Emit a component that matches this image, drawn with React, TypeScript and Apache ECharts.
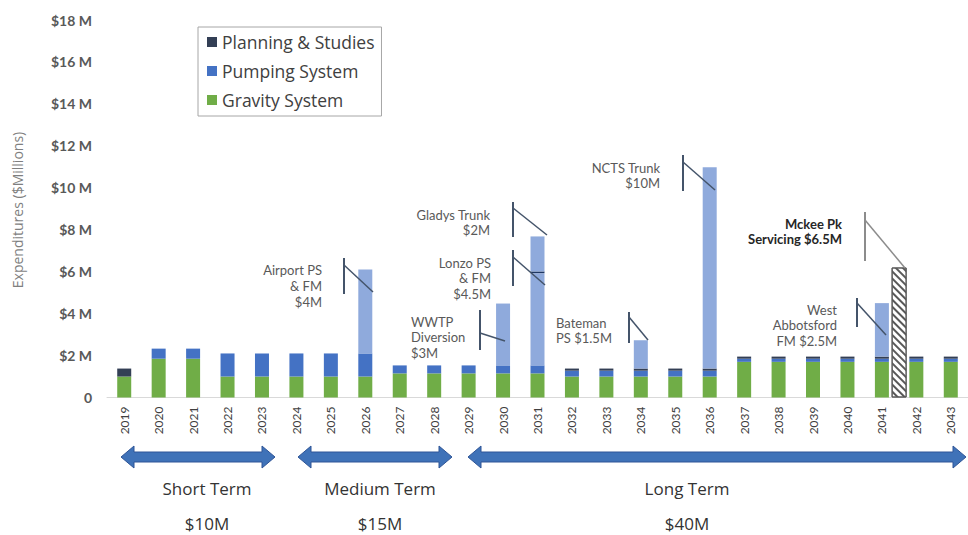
import React, { useEffect, useRef } from "react";
import * as echarts from "echarts";

const years = [
  "2019", "2020", "2021", "2022", "2023", "2024", "2025", "2026", "2027", "2028",
  "2029", "2030", "2031", "2032", "2033", "2034", "2035", "2036", "2037", "2038",
  "2039", "2040", "2041", "2042", "2043",
];
const gravity = [1.0, 1.85, 1.85, 1.0, 1.0, 1.0, 1.0, 1.0, 1.15, 1.15, 1.15, 1.15, 1.15, 1.0, 1.0, 1.0, 1.0, 1.0, 1.7, 1.7, 1.7, 1.7, 1.7, 1.7, 1.7];
const pumping = [0, 0.48, 0.48, 1.1, 1.1, 1.1, 1.1, 1.1, 0.38, 0.38, 0.38, 0.38, 0.38, 0.28, 0.28, 0.28, 0.28, 0.28, 0.15, 0.15, 0.15, 0.15, 0.15, 0.15, 0.15];
const planning = [0.38, 0, 0, 0, 0, 0, 0, 0, 0, 0, 0, 0, 0, 0.1, 0.1, 0.1, 0.1, 0.1, 0.1, 0.1, 0.1, 0.1, 0.1, 0.1, 0.1];
const majorProjects = [0, 0, 0, 0, 0, 0, 0, 4.0, 0, 0, 0, 2.95, 4.4, 0, 0, 1.35, 0, 9.6, 0, 0, 0, 0, 2.55, 0, 0];
const projectDivider = [0, 0, 0, 0, 0, 0, 0, 0, 0, 0, 0, 0, 0.08, 0, 0, 0, 0, 0, 0, 0, 0, 0, 0, 0, 0];
const upperProjects = [0, 0, 0, 0, 0, 0, 0, 0, 0, 0, 0, 0, 1.67, 0, 0, 0, 0, 0, 0, 0, 0, 0, 0, 0, 0];
const mckeePosition = 22.5; // between 2041 and 2042
const mckeeValue = 6.2;
const yTicks = [0, 2, 4, 6, 8, 10, 12, 14, 16, 18];

const FONT = "Lato, 'Open Sans', sans-serif";
const WIDE = "'Open Sans', Lato, sans-serif";
const CALLOUT = "#44546a";

const annotations = [
  { text: "Airport PS\n& FM\n$4M", x: 322, y: 262, align: "right", lh: 16, bold: false },
  { text: "WWTP\nDiversion\n$3M", x: 411, y: 314, align: "left", lh: 15.5, bold: false },
  { text: "Lonzo PS\n& FM\n$4.5M", x: 491, y: 255, align: "right", lh: 15.5, bold: false },
  { text: "Gladys Trunk\n$2M", x: 490, y: 207, align: "right", lh: 15.5, bold: false },
  { text: "Bateman\nPS $1.5M", x: 556, y: 315, align: "left", lh: 15.5, bold: false },
  { text: "NCTS Trunk\n$10M", x: 660, y: 160, align: "right", lh: 15.5, bold: false },
  { text: "Mckee Pk\nServicing $6.5M", x: 842, y: 216, align: "right", lh: 15.5, bold: true },
  { text: "West\nAbbotsford\nFM $2.5M", x: 837, y: 302, align: "right", lh: 15.5, bold: false },
];

const callouts = [
  { vx: 344, vy1: 258, vy2: 294, dy: 265, ex: 373, ey: 292, c: CALLOUT },
  { vx: 480, vy1: 310, vy2: 350, dy: 333, ex: 505, ey: 341, c: CALLOUT },
  { vx: 513, vy1: 250, vy2: 286, dy: 257, ex: 545, ey: 285, c: CALLOUT },
  { vx: 513, vy1: 202, vy2: 237, dy: 208, ex: 547, ey: 235, c: CALLOUT },
  { vx: 629, vy1: 312, vy2: 343, dy: 317, ex: 648, ey: 340, c: CALLOUT },
  { vx: 683, vy1: 155, vy2: 191, dy: 162, ex: 715, ey: 190, c: CALLOUT },
  { vx: 865, vy1: 212, vy2: 261, dy: 220, ex: 905, ey: 268, c: "#8c8c8c" },
  { vx: 857, vy1: 298, vy2: 327, dy: 303, ex: 886, ey: 335, c: CALLOUT },
];

const terms = [
  { name: "Short Term", total: "$10M", x1: 121, x2: 275, cx: 207 },
  { name: "Medium Term", total: "$15M", x1: 298, x2: 452, cx: 380 },
  { name: "Long Term", total: "$40M", x1: 468, x2: 966, cx: 687 },
];

function arrowPoints(x1: number, x2: number, cy: number) {
  const hl = 13, bh = 5, hh = 11;
  return [
    [x1, cy], [x1 + hl, cy - hh], [x1 + hl, cy - bh], [x2 - hl, cy - bh], [x2 - hl, cy - hh],
    [x2, cy], [x2 - hl, cy + hh], [x2 - hl, cy + bh], [x1 + hl, cy + bh], [x1 + hl, cy + hh],
  ];
}

export default function App() {
  const ref = useRef<HTMLDivElement>(null);
  useEffect(() => {
    if (!ref.current) return;
    const chart = echarts.init(ref.current, null, { renderer: "svg" });
    const graphic: any[] = [];
    graphic.push({
      type: "text",
      x: 17,
      y: 210,
      rotation: Math.PI / 2,
      style: { text: "Expenditures ($Millions)", fill: "#7f7f7f", font: `14px ${WIDE}`, align: "center", verticalAlign: "middle" },
    });
    annotations.forEach((a) => {
      graphic.push({
        type: "text",
        x: a.x,
        y: a.y,
        z: 10,
        style: {
          text: a.text,
          fill: a.bold ? "#262626" : "#595959",
          font: `${a.bold ? "bold " : ""}13px ${FONT}`,
          align: a.align,
          verticalAlign: "top",
          lineHeight: a.lh,
        },
      });
    });
    callouts.forEach((c) => {
      graphic.push({ type: "line", z: 10, shape: { x1: c.vx, y1: c.vy1, x2: c.vx, y2: c.vy2 }, style: { stroke: c.c, lineWidth: 2 } });
      graphic.push({ type: "line", z: 10, shape: { x1: c.vx, y1: c.dy, x2: c.ex, y2: c.ey }, style: { stroke: c.c, lineWidth: 1.5 } });
    });
    terms.forEach((t) => {
      graphic.push({
        type: "polygon",
        shape: { points: arrowPoints(t.x1, t.x2, 457) },
        style: { fill: "#3f72b8", stroke: "#2f5597", lineWidth: 1 },
      });
      graphic.push({
        type: "text", x: t.cx, y: 488,
        style: { text: t.name, fill: "#333333", font: `17px ${WIDE}`, align: "center", verticalAlign: "middle" },
      });
      graphic.push({
        type: "text", x: t.cx, y: 523,
        style: { text: t.total, fill: "#333333", font: `17px ${WIDE}`, align: "center", verticalAlign: "middle" },
      });
    });

    const barBase = { type: "bar", stack: "total", barWidth: 14, xAxisIndex: 0, yAxisIndex: 0 };
    chart.setOption({
      animation: false,
      textStyle: { fontFamily: FONT },
      grid: { left: 107, right: -4, top: 20, bottom: 137.5, containLabel: false },
      legend: {
        left: 198,
        top: 27,
        orient: "vertical",
        data: ["Planning & Studies", "Pumping System", "Gravity System"],
        icon: "rect",
        itemWidth: 10,
        itemHeight: 10,
        itemGap: 11,
        padding: [6, 7, 7, 9],
        borderColor: "#a6a6a6",
        borderWidth: 1,
        selectedMode: false,
        textStyle: { fontSize: 17.5, color: "#404040", fontFamily: WIDE },
      },
      xAxis: [
        {
          type: "category",
          data: years,
          axisLine: { show: true, lineStyle: { color: "#d9d9d9" } },
          axisTick: { show: false },
          axisLabel: { rotate: 90, fontSize: 12, color: "#404040", margin: 9, interval: 0 },
        },
        { type: "value", min: -0.5, max: 24.5, show: false },
      ],
      yAxis: {
        type: "value",
        min: 0,
        max: 18,
        interval: 2,
        splitLine: { show: false },
        axisLine: { show: false },
        axisTick: { show: false },
        axisLabel: {
          fontSize: 14,
          fontWeight: "bold",
          color: "#595959",
          margin: 15,
          formatter: (v: number) => (yTicks.includes(v) ? (v === 0 ? "0" : `$${v} M`) : ""),
        },
      },
      series: [
        { ...barBase, name: "Gravity System", data: gravity, itemStyle: { color: "#70ad47" } },
        { ...barBase, name: "Pumping System", data: pumping, itemStyle: { color: "#4472c4" } },
        { ...barBase, name: "Planning & Studies", data: planning, itemStyle: { color: "#333f55" } },
        { ...barBase, name: "Major Projects", data: majorProjects, itemStyle: { color: "#8faadc" } },
        { ...barBase, name: "Divider", data: projectDivider, itemStyle: { color: "#1f3864" } },
        { ...barBase, name: "Upper Projects", data: upperProjects, itemStyle: { color: "#8faadc" } },
        {
          type: "bar",
          name: "Mckee Pk Servicing",
          xAxisIndex: 1,
          yAxisIndex: 0,
          barWidth: 15,
          data: [[mckeePosition, mckeeValue]],
          itemStyle: {
            color: "#ffffff",
            borderColor: "#595959",
            borderWidth: 1,
            decal: {
              symbol: "rect",
              symbolSize: 1,
              color: "#595959",
              dashArrayX: [1, 0],
              dashArrayY: [1.2, 2.3],
              rotation: Math.PI / 4,
            },
          },
        },
      ],
      graphic,
    });
    return () => chart.dispose();
  }, []);
  return <div ref={ref} style={{ position: "fixed", left: 0, top: 0, width: 968, height: 535, background: "#fff" }} />;
}
